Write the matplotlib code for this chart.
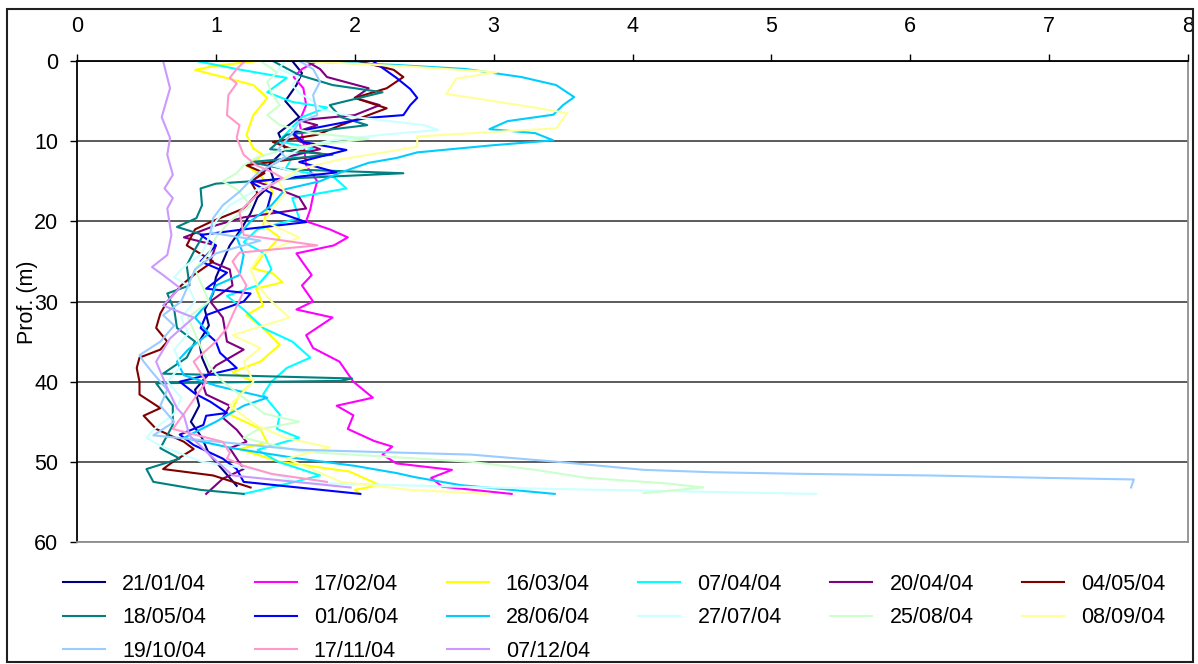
import matplotlib
matplotlib.use('Agg')
import matplotlib.pyplot as plt
from matplotlib.patches import Rectangle

plt.rcParams['font.family'] = ['Liberation Sans', 'DejaVu Sans']

labels = ['21/01/04', '17/02/04', '16/03/04', '07/04/04', '20/04/04', '04/05/04',
          '18/05/04', '01/06/04', '28/06/04', '27/07/04', '25/08/04', '08/09/04',
          '19/10/04', '17/11/04', '07/12/04']
colors = ['#000080', '#FF00FF', '#FFFF00', '#00FFFF', '#800080', '#800000',
          '#008080', '#0000FF', '#00CCFF', '#CCFFFF', '#CCFFCC', '#FFFF99',
          '#99CCFF', '#FF99CC', '#CC99FF']

# depth (m) and value for each profile
d_2101 = [0, 1.5, 3, 5, 7, 9, 11, 13, 15, 17, 19, 21, 23, 25, 27, 29, 31, 33, 35, 37, 39, 41, 43, 45, 47, 49, 51, 53]
v_2101 = [1.55, 1.62, 1.58, 1.5, 1.6, 1.45, 1.5, 1.38, 1.42, 1.3, 1.25, 1.18, 1.1, 1.05, 1.0, 0.98, 0.92, 0.95, 0.88, 0.9, 0.95, 0.85, 0.88, 0.82, 0.9, 0.95, 1.05, 1.15]

d_1702 = [0, 1, 2, 3.4, 5.5, 7.6, 10, 13, 15, 16.8, 18.5, 20, 21, 22, 23, 24, 25, 26.7, 28, 30, 31, 32, 34.2, 35.8, 37.5, 40, 42, 43, 44.2, 45.9, 47.4, 48.1, 49.1, 50.2, 51, 52, 53.1, 54]
v_1702 = [1.73, 1.62, 1.56, 1.63, 1.65, 1.6, 1.63, 1.65, 1.73, 1.70, 1.68, 1.65, 1.82, 1.95, 1.85, 1.58, 1.62, 1.69, 1.62, 1.70, 1.58, 1.84, 1.65, 1.70, 1.89, 1.99, 2.13, 1.87, 1.99, 1.95, 2.14, 2.27, 2.2, 2.3, 2.7, 2.55, 2.63, 3.13]

d_1603 = [0, 0.6, 1.1, 2, 3, 4.6, 6.75, 9.2, 10.9, 11.75, 13, 14.25, 16.3, 18.4, 20.5, 22, 24.2, 25.9, 26.5, 27.6, 28.4, 30.5, 31.7, 33.3, 35.4, 37.5, 38.8, 40, 41.6, 44.1, 45.9, 47.6, 48.4, 50, 51.2, 52.9, 53.5, 54]
v_1603 = [1.30, 1.0, 0.85, 1.05, 1.27, 1.37, 1.27, 1.22, 1.27, 1.34, 1.22, 1.32, 1.41, 1.37, 1.34, 1.46, 1.34, 1.27, 1.41, 1.48, 1.29, 1.34, 1.22, 1.34, 1.46, 1.32, 1.12, 1.27, 1.17, 1.10, 1.32, 1.37, 1.17, 1.46, 1.96, 2.18, 2.0, 2.04]

d_0704 = [0, 1, 2.1, 3.9, 5.1, 5.8, 7, 9, 10, 10.9, 12, 13.5, 14.5, 15.9, 17.1, 19.6, 21, 22.6, 24, 26, 28, 29.3, 31, 33.3, 35, 37, 38.3, 40, 41.6, 44.1, 45.9, 47, 48.5, 50, 51.7, 53, 54]
v_0704 = [0.86, 1.15, 1.51, 1.37, 1.55, 1.80, 1.62, 1.51, 1.45, 1.70, 1.55, 1.5, 1.85, 1.94, 1.55, 1.6, 1.3, 1.2, 1.35, 1.4, 1.3, 1.08, 1.2, 1.34, 1.55, 1.68, 1.51, 1.4, 1.34, 1.46, 1.44, 1.6, 1.3, 1.45, 1.75, 1.45, 1.2]

d_2004 = [0, 1, 2, 3.4, 4.6, 5.5, 6.75, 7.4, 8, 9, 10, 11, 12, 13, 14.9, 16, 17, 18.4, 19.5, 20.5, 22, 23, 25, 26, 28, 30, 32, 35, 36, 38, 40, 41.6, 43, 44.5, 46, 47.5, 48.3, 50.9, 52.1, 54]
v_2004 = [1.65, 1.75, 1.8, 2.1, 2.0, 2.18, 2.0, 1.6, 1.73, 1.55, 1.6, 1.75, 1.5, 1.4, 1.27, 1.45, 1.6, 1.65, 1.2, 1.0, 0.77, 1.0, 0.96, 1.1, 1.12, 0.96, 1.05, 1.08, 1.2, 1.0, 0.9, 0.93, 1.1, 1.05, 1.15, 1.22, 1.1, 1.2, 1.05, 0.93]

d_0405 = [0, 1.1, 2, 3.4, 4.6, 5.9, 7, 8, 9.2, 10.1, 11, 11.7, 13, 14, 15, 16.5, 18.4, 20.1, 21, 23, 25, 26.7, 28, 30, 31.5, 33.3, 35, 36, 37, 38.3, 40, 41.6, 43.3, 44.25, 45.9, 47.5, 48.4, 50, 50.9, 51.7, 53.2]
v_0405 = [2.02, 2.28, 2.35, 2.23, 2.0, 2.23, 2.06, 1.9, 1.73, 1.41, 1.55, 1.80, 1.22, 1.35, 1.25, 1.3, 1.2, 0.96, 0.85, 0.79, 0.98, 0.84, 0.75, 0.65, 0.6, 0.57, 0.65, 0.6, 0.45, 0.43, 0.45, 0.45, 0.6, 0.48, 0.57, 0.77, 0.84, 0.69, 0.62, 0.98, 1.25]

d_1805 = [0, 1.75, 3, 3.9, 5.5, 7, 8, 9.2, 11, 11.7, 12.6, 13.5, 14, 14.6, 15.3, 15.9, 18, 19.6, 20.7, 21.7, 23.5, 25.5, 28, 29, 31, 33.3, 35, 37, 39, 39.6, 39.9, 40.2, 43, 45.4, 48.3, 49.6, 50.9, 52.5, 53.5, 54]
v_1805 = [1.41, 1.6, 1.84, 2.2, 1.82, 1.9, 2.09, 1.51, 1.39, 1.84, 1.25, 1.5, 2.35, 1.6, 1.0, 0.89, 0.9, 0.86, 0.72, 0.91, 0.85, 0.79, 0.81, 0.65, 0.7, 0.72, 0.85, 0.79, 0.62, 1.98, 1.9, 0.57, 0.69, 0.69, 0.6, 0.74, 0.5, 0.55, 0.89, 1.2]

d_0106 = [0, 2.1, 3.5, 4.6, 5.5, 6.75, 7.1, 8, 8.9, 10.1, 11.1, 12.6, 13.9, 15.1, 16.5, 18.4, 20.1, 21, 21.7, 23, 25, 26.4, 28.4, 29, 30, 31.7, 33.3, 35, 36.4, 38.3, 40, 41.5, 42.5, 43.9, 44.25, 45.4, 46.6, 47.9, 49.6, 50.9, 52.5, 54]
v_0106 = [2.13, 2.3, 2.4, 2.45, 2.4, 2.35, 2.09, 1.82, 1.55, 1.63, 1.94, 1.6, 1.87, 1.25, 1.4, 1.37, 1.65, 1.2, 0.89, 1.0, 0.89, 1.08, 0.93, 1.25, 1.2, 0.93, 0.89, 1.0, 1.03, 1.15, 0.74, 0.85, 0.96, 1.08, 0.93, 0.91, 0.74, 0.84, 1.05, 1.15, 1.2, 2.04]

d_2806 = [0, 0.5, 1, 2, 3, 4.5, 5.5, 6.7, 7.5, 8.5, 9, 9.9, 10.5, 11.4, 12.1, 12.7, 13.9, 15, 16, 18, 20, 22, 24.2, 26.7, 28, 30, 32, 34, 36, 37.5, 39.2, 40.5, 42, 43, 45, 47, 48.3, 49.6, 50.5, 51.4, 51.9, 52.9, 54]
v_2806 = [1.6, 2.3, 2.8, 3.2, 3.45, 3.58, 3.5, 3.43, 3.1, 2.97, 3.3, 3.43, 3.0, 2.45, 2.3, 2.1, 1.9, 1.75, 1.5, 1.4, 1.25, 1.15, 1.2, 1.17, 1.0, 0.95, 0.85, 0.95, 0.8, 0.72, 0.77, 1.0, 1.37, 1.2, 1.0, 0.77, 1.12, 1.6, 2.0, 2.3, 2.43, 2.76, 3.44]

d_2707 = [0, 1, 2, 3, 4, 5, 6, 7, 8, 8.6, 9.2, 10, 11, 12, 13, 14, 16, 18, 20, 22, 24, 26, 27, 28, 30, 32, 34, 36, 38, 40, 42, 44, 46, 47, 48, 50, 51, 52, 52.6, 53.3, 54]
v_2707 = [1.5, 1.45, 1.6, 1.55, 1.6, 1.7, 1.75, 2.0, 2.5, 2.6, 2.2, 1.8, 1.6, 1.5, 1.4, 1.6, 1.3, 1.1, 1.0, 0.95, 0.9, 0.75, 0.7, 0.8, 0.85, 0.75, 0.8, 0.7, 0.75, 0.65, 0.75, 0.7, 0.55, 0.5, 0.6, 0.9, 1.3, 1.5, 1.6, 3.2, 5.32]

d_2508 = [0, 1.4, 2.6, 4, 5.5, 6.75, 8, 9, 9.7, 10.5, 11, 12, 13, 14, 15, 16, 18, 20, 22, 24, 26, 28, 30, 32, 34, 36, 38, 40, 42, 44, 45, 46, 47, 48.7, 50, 51, 52, 52.7, 53.2, 53.9]
v_2508 = [1.32, 1.44, 1.37, 1.4, 1.46, 1.37, 1.46, 1.7, 2.1, 1.7, 1.5, 1.3, 1.2, 1.15, 1.05, 1.15, 1.25, 1.1, 1.0, 0.95, 0.85, 0.9, 0.95, 0.8, 0.85, 0.9, 0.95, 1.05, 1.2, 1.35, 1.6, 1.3, 1.2, 1.6, 2.84, 3.3, 3.67, 4.25, 4.51, 4.08]

d_0809 = [0, 0.7, 1.4, 2.2, 4.1, 5.6, 6.5, 8.4, 9.4, 10.7, 12.3, 13.5, 15, 16.5, 18.4, 20, 22, 24.2, 26, 28, 30, 32, 34.2, 35.8, 37.5, 40, 43, 45.4, 47, 48.2, 49.6, 51, 52.5, 53.5, 54]
v_0809 = [1.6, 2.4, 3.02, 2.73, 2.66, 3.22, 3.53, 3.45, 2.45, 2.45, 1.89, 1.6, 1.45, 1.5, 1.41, 1.35, 1.6, 1.32, 1.25, 1.3, 1.4, 1.53, 1.12, 1.32, 1.2, 1.27, 1.1, 1.29, 1.5, 1.82, 1.51, 1.7, 1.9, 2.4, 2.96]

d_1910 = [0, 1, 2.6, 4.25, 6.75, 7.6, 9, 10, 11, 12, 13, 14, 16.3, 18, 19.6, 21.4, 22.4, 24, 26, 28, 30, 31.7, 33, 35, 36.7, 37.5, 39, 41, 43, 45, 46.7, 48.5, 49.1, 50, 51, 51.3, 51.5, 51.7, 52, 52.2, 53.2]
v_1910 = [1.6, 1.7, 1.75, 1.7, 1.73, 1.6, 1.55, 1.5, 1.45, 1.5, 1.4, 1.3, 1.17, 1.05, 0.98, 0.96, 1.32, 1.0, 0.85, 0.8, 0.75, 0.62, 0.7, 0.6, 0.45, 0.48, 0.55, 0.65, 0.6, 0.7, 0.55, 1.6, 2.84, 3.46, 4.08, 4.58, 5.23, 6.14, 6.97, 7.61, 7.59]

d_1711 = [0, 1, 2.1, 2.8, 4.25, 6.75, 8, 9.6, 11.7, 13, 13.9, 14.6, 16.3, 18.8, 21.7, 23, 23.9, 25, 28, 31.7, 33.3, 35, 37.5, 40, 42, 44, 45.9, 47.5, 48.9, 49.6, 50.5, 51.5, 52.5]
v_1711 = [1.21, 1.15, 1.10, 1.15, 1.09, 1.08, 1.17, 1.15, 1.2, 1.29, 1.41, 1.48, 1.32, 1.17, 1.2, 1.73, 1.17, 1.12, 1.22, 1.12, 1.08, 1.0, 0.84, 0.93, 0.85, 0.77, 0.69, 1.05, 1.1, 1.08, 1.2, 1.4, 1.8]

d_0712 = [0, 3.4, 7, 9.6, 11.7, 14.2, 15.9, 17.1, 18.4, 21.7, 24.2, 25.7, 26.7, 28.3, 29.6, 30.5, 32, 34.6, 37.5, 40.8, 43.3, 44.25, 46.7, 49.2, 51.7, 53.2]
v_0712 = [0.62, 0.67, 0.61, 0.67, 0.65, 0.69, 0.63, 0.69, 0.65, 0.68, 0.65, 0.54, 0.62, 0.74, 0.67, 0.62, 0.84, 0.67, 0.57, 0.65, 0.72, 0.77, 0.81, 0.96, 1.12, 1.97]

depths = [d_2101, d_1702, d_1603, d_0704, d_2004, d_0405, d_1805, d_0106,
          d_2806, d_2707, d_2508, d_0809, d_1910, d_1711, d_0712]
values = [v_2101, v_1702, v_1603, v_0704, v_2004, v_0405, v_1805, v_0106,
          v_2806, v_2707, v_2508, v_0809, v_1910, v_1711, v_0712]

x_ticks = [0, 1, 2, 3, 4, 5, 6, 7, 8]
y_ticks = [0, 10, 20, 30, 40, 50, 60]

FS = 15.5
W, H = 1198, 664
fig = plt.figure(figsize=(W / 100, H / 100), dpi=100)
ax = fig.add_axes([77 / W, 1 - 542 / H, (1188 - 77) / W, (542 - 61) / H])

handles = []
for d, v, c, lab in zip(depths, values, colors, labels):
    h, = ax.plot(v, d, color=c, lw=1.5, label=lab, solid_joinstyle='round')
    handles.append(h)

ax.set_xlim(0, 8)
ax.set_ylim(60, 0)
ax.set_xticks(x_ticks)
ax.set_yticks(y_ticks)
ax.xaxis.tick_top()
ax.tick_params(axis='x', direction='out', length=5, width=1, pad=12, labelsize=FS)
ax.tick_params(axis='y', direction='out', length=5, width=1, pad=8.5, labelsize=FS)
ax.yaxis.grid(True, color='#404040', lw=1.2)
ax.set_axisbelow(True)
ax.spines['left'].set_color('black')
ax.spines['top'].set_color('black')
ax.spines['right'].set_color('#909090')
ax.spines['bottom'].set_color('#909090')
for s in ax.spines.values():
    s.set_linewidth(1.3)

fig.text(27 / W, 1 - 302 / H, 'Prof. (m)', rotation=90, ha='center', va='center', fontsize=FS)

order = [0, 6, 12, 1, 7, 13, 2, 8, 14, 3, 9, 4, 10, 5, 11]
leg = fig.legend([handles[i] for i in order], [labels[i] for i in order],
                 ncol=6, loc='upper left', bbox_to_anchor=(63 / W, 1 - 574 / H),
                 frameon=False, fontsize=FS, handlelength=1.95, handletextpad=0.8,
                 columnspacing=2.25, labelspacing=0.58, borderpad=0, borderaxespad=0)

fig.patches.append(Rectangle((7 / W, 2 / H), (1193 - 7) / W, (662 - 9) / H,
                             transform=fig.transFigure, fill=False,
                             edgecolor='#202020', lw=1.5))

fig.savefig('out.png', dpi=100)
